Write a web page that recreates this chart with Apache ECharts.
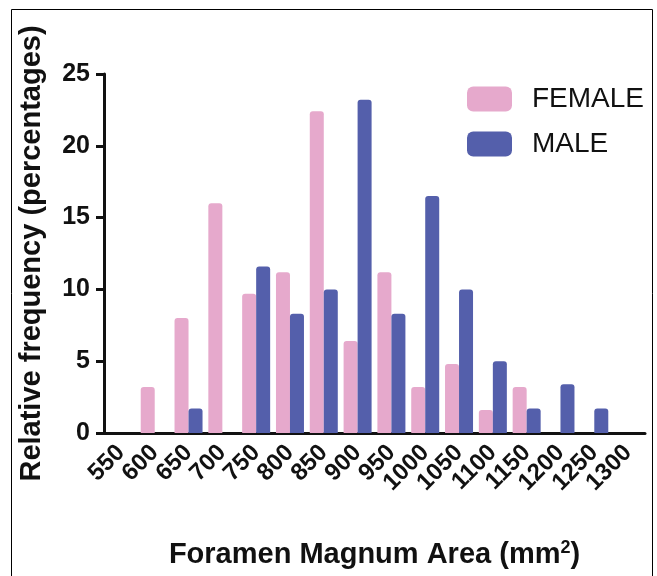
<!DOCTYPE html>
<html>
<head>
<meta charset="utf-8">
<script src="https://cdn.jsdelivr.net/npm/echarts@6/dist/echarts.min.js"></script>
<style>
  html, body { margin: 0; padding: 0; background: #fff; }
  #chart { width: 657px; height: 576px; }
</style>
</head>
<body>
<div id="chart"></div>
<script>
// area bins (mm2)
var bins = ['550', '600', '650', '700', '750', '800', '850', '900', '950', '1000', '1050', '1100', '1150', '1200', '1250', '1300'];
// relative frequency, %
var female = [0, 3.2, 8.0, 16.0, 9.7, 11.2, 22.4, 6.4, 11.2, 3.2, 4.8, 1.6, 3.2, 0, 0, 0];
var male = [0, 0, 1.7, 0, 11.6, 8.3, 10.0, 23.2, 8.3, 16.5, 10.0, 5.0, 1.7, 3.4, 1.7, 0];
var yTicks = [0, 5, 10, 15, 20, 25];

var font = '"Liberation Sans", Arial, Helvetica, sans-serif';
var myChart = echarts.init(document.getElementById('chart'));
var option = {
    animation: false,
    textStyle: { fontFamily: font },
    color: ['#E6A9CC', '#545FAB'],
    graphic: [
        {
            type: 'rect',
            shape: { x: 11.5, y: 9.5, width: 641, height: 620 },
            style: { fill: 'none', stroke: '#000', lineWidth: 1 }
        }
    ],
    legend: {
        orient: 'vertical',
        left: 462,
        top: 80,
        itemWidth: 45,
        itemHeight: 25,
        itemGap: 17,
        icon: 'roundRect',
        textStyle: { fontSize: 28, color: '#111', fontFamily: font, padding: [0, 0, 0, 15] },
        data: ['FEMALE', 'MALE']
    },
    grid: {
        left: 104,
        right: 12,
        top: 74,
        bottom: 143
    },
    xAxis: {
        type: 'category',
        data: bins,
        boundaryGap: true,
        name: 'Foramen Magnum Area (mm{sup|2})',
        nameLocation: 'middle',
        nameGap: 106,
        nameTextStyle: {
            fontSize: 29,
            fontWeight: 'bold',
            color: '#111',
            fontFamily: font,
            rich: {
                sup: { fontSize: 18, fontWeight: 'bold', color: '#111', verticalAlign: 'top', padding: [0, 0, 13, 0] }
            }
        },
        axisLine: { lineStyle: { color: '#111', width: 3 } },
        axisTick: { alignWithLabel: true, length: 10, lineStyle: { color: '#111', width: 3 } },
        axisLabel: {
            interval: 0,
            rotate: 45,
            margin: 16,
            fontSize: 24,
            fontWeight: 'bold',
            color: '#111',
            fontFamily: font
        }
    },
    yAxis: {
        type: 'value',
        min: yTicks[0],
        max: yTicks[yTicks.length - 1],
        interval: 5,
        name: 'Relative frequency (percentages)',
        nameLocation: 'middle',
        nameGap: 58,
        nameTextStyle: { fontSize: 29, fontWeight: 'bold', color: '#111', fontFamily: font },
        splitLine: { show: false },
        axisLine: { show: true, lineStyle: { color: '#111', width: 3 } },
        axisTick: { show: true, length: 8, lineStyle: { color: '#111', width: 3 } },
        axisLabel: { margin: 14, fontSize: 25, fontWeight: 'bold', color: '#111', fontFamily: font }
    },
    series: [
        {
            name: 'FEMALE',
            type: 'bar',
            barWidth: 14,
            barGap: '0%',
            itemStyle: { borderRadius: [3, 3, 0, 0] },
            data: female
        },
        {
            name: 'MALE',
            type: 'bar',
            barWidth: 14,
            barGap: '0%',
            itemStyle: { borderRadius: [3, 3, 0, 0] },
            data: male
        }
    ]
};
myChart.setOption(option);
</script>
</body>
</html>
